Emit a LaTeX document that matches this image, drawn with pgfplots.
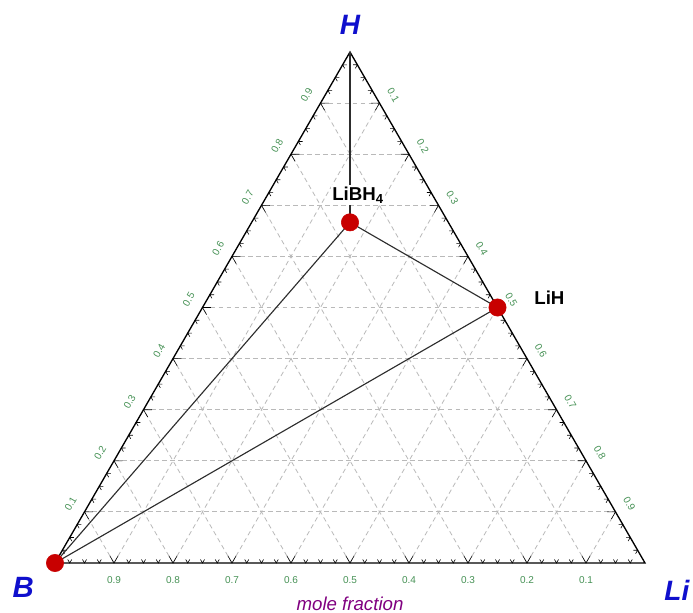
\documentclass[border=0pt]{standalone}
\usepackage{fontspec}
\setmainfont{Liberation Sans}
\usepackage{pgfplots}
\pgfplotsset{compat=1.18}

\definecolor{ptred}{RGB}{200,0,0}
\definecolor{lblblue}{RGB}{15,15,205}
\definecolor{tickgreen}{RGB}{70,145,85}
\definecolor{molepurple}{RGB}{128,0,128}
\definecolor{gridgray}{RGB}{185,185,185}
\definecolor{linegray}{RGB}{45,45,45}

\begin{document}
\begin{tikzpicture}[x=442.5pt,y=442.5pt]
  \useasboundingbox (-41.25pt,-37.5pt) rectangle (478.5pt,422.25pt);

  % dashed composition grid, every 0.1
  \foreach \k in {1,...,9}{
    \draw[gridgray, line width=0.6pt, dash pattern=on 3.5pt off 2.5pt]
      ({\k/20},{\k*0.0866025}) -- ({1-\k/20},{\k*0.0866025});
    \draw[gridgray, line width=0.6pt, dash pattern=on 3.5pt off 2.5pt]
      ({\k/10},0) -- ({\k/10+(1-\k/10)/2},{(1-\k/10)*0.8660254});
    \draw[gridgray, line width=0.6pt, dash pattern=on 3.5pt off 2.5pt]
      ({\k/10},0) -- ({\k/20},{\k/10*0.8660254});
  }

  % inward tick marks, every 0.025
  \foreach \i in {1,...,39}{
    \pgfmathsetmacro\L{mod(\i,4)==0 ? 0.014 : 0.007}
    \draw[black, line width=0.45pt]
      ({\i/40},0) ++(120:\L) -- ({\i/40},0) -- ++(60:\L);
    \draw[black, line width=0.45pt]
      ({\i/80},{\i/40*0.8660254}) ++(0:\L) -- ({\i/80},{\i/40*0.8660254}) -- ++(-60:\L);
    \draw[black, line width=0.45pt]
      ({0.5+\i/80},{0.8660254-\i/40*0.8660254}) ++(180:\L) -- ({0.5+\i/80},{0.8660254-\i/40*0.8660254}) -- ++(240:\L);
  }

  \begin{axis}[
      anchor=origin, at={(0,0)},
      x=442.5pt, y=442.5pt,
      xmin=-0.0932, xmax=1.0814,
      ymin=-0.0847, ymax=0.9542,
      hide axis, clip=false,
    ]
    % triangle B - Li - H
    \addplot[black, line width=1pt, line join=miter] coordinates {
      (0,0) (1,0) (0.5,0.8660254) (0,0)
    };
    % tie lines
    \addplot[linegray, line width=0.85pt] coordinates {(0.5,0.8660254) (0.5,0.5773503)};
    \addplot[linegray, line width=0.85pt] coordinates {(0.5,0.5773503) (0.75,0.4330127)};
    \addplot[linegray, line width=0.85pt] coordinates {(0.75,0.4330127) (0,0)};
    \addplot[linegray, line width=0.85pt] coordinates {(0.5,0.5773503) (0,0)};
    % phases: B, LiBH4, LiH
    \addplot[only marks, mark=*, mark size=6.5pt,
      mark options={draw=ptred, fill=ptred}] coordinates {
      (0,0) (0.5,0.5773503) (0.75,0.4330127)
    };
  \end{axis}

  % axis tick labels
  \foreach \k in {1,...,9}{
    \pgfmathtruncatemacro\b{10-\k}
    \node[tickgreen, font=\fontsize{7.5}{8}\selectfont, inner sep=0pt]
      at ({\k/10},-0.0295) {0.\b};
    \node[tickgreen, font=\fontsize{7.5}{8}\selectfont, inner sep=0pt, rotate=60]
      at ({\k/20-0.0235},{\k*0.0866025+0.0136}) {0.\k};
    \node[tickgreen, font=\fontsize{7.5}{8}\selectfont, inner sep=0pt, rotate=-60]
      at ({0.5+\k/20+0.0235},{0.8660254-\k*0.0866025+0.0136}) {0.\k};
  }

  % corner and phase labels
  \node[lblblue, font=\fontsize{21}{21}\selectfont\bfseries\itshape] at (0.5,0.912) {H};
  \node[lblblue, font=\fontsize{22}{22}\selectfont\bfseries\itshape] at (-0.054,-0.042) {B};
  \node[lblblue, font=\fontsize{21}{21}\selectfont\bfseries\itshape] at (1.054,-0.046) {Li};
  \node[molepurple, font=\fontsize{14}{14}\selectfont\itshape] at (0.5,-0.0695) {mole fraction};
  \node[fill=white, inner sep=1pt, font=\fontsize{14}{14}\selectfont\bfseries] at (0.5136,0.6237) {LiBH\textsubscript{4}};
  \node[font=\fontsize{14}{14}\selectfont\bfseries] at (0.838,0.45) {LiH};
\end{tikzpicture}
\end{document}
